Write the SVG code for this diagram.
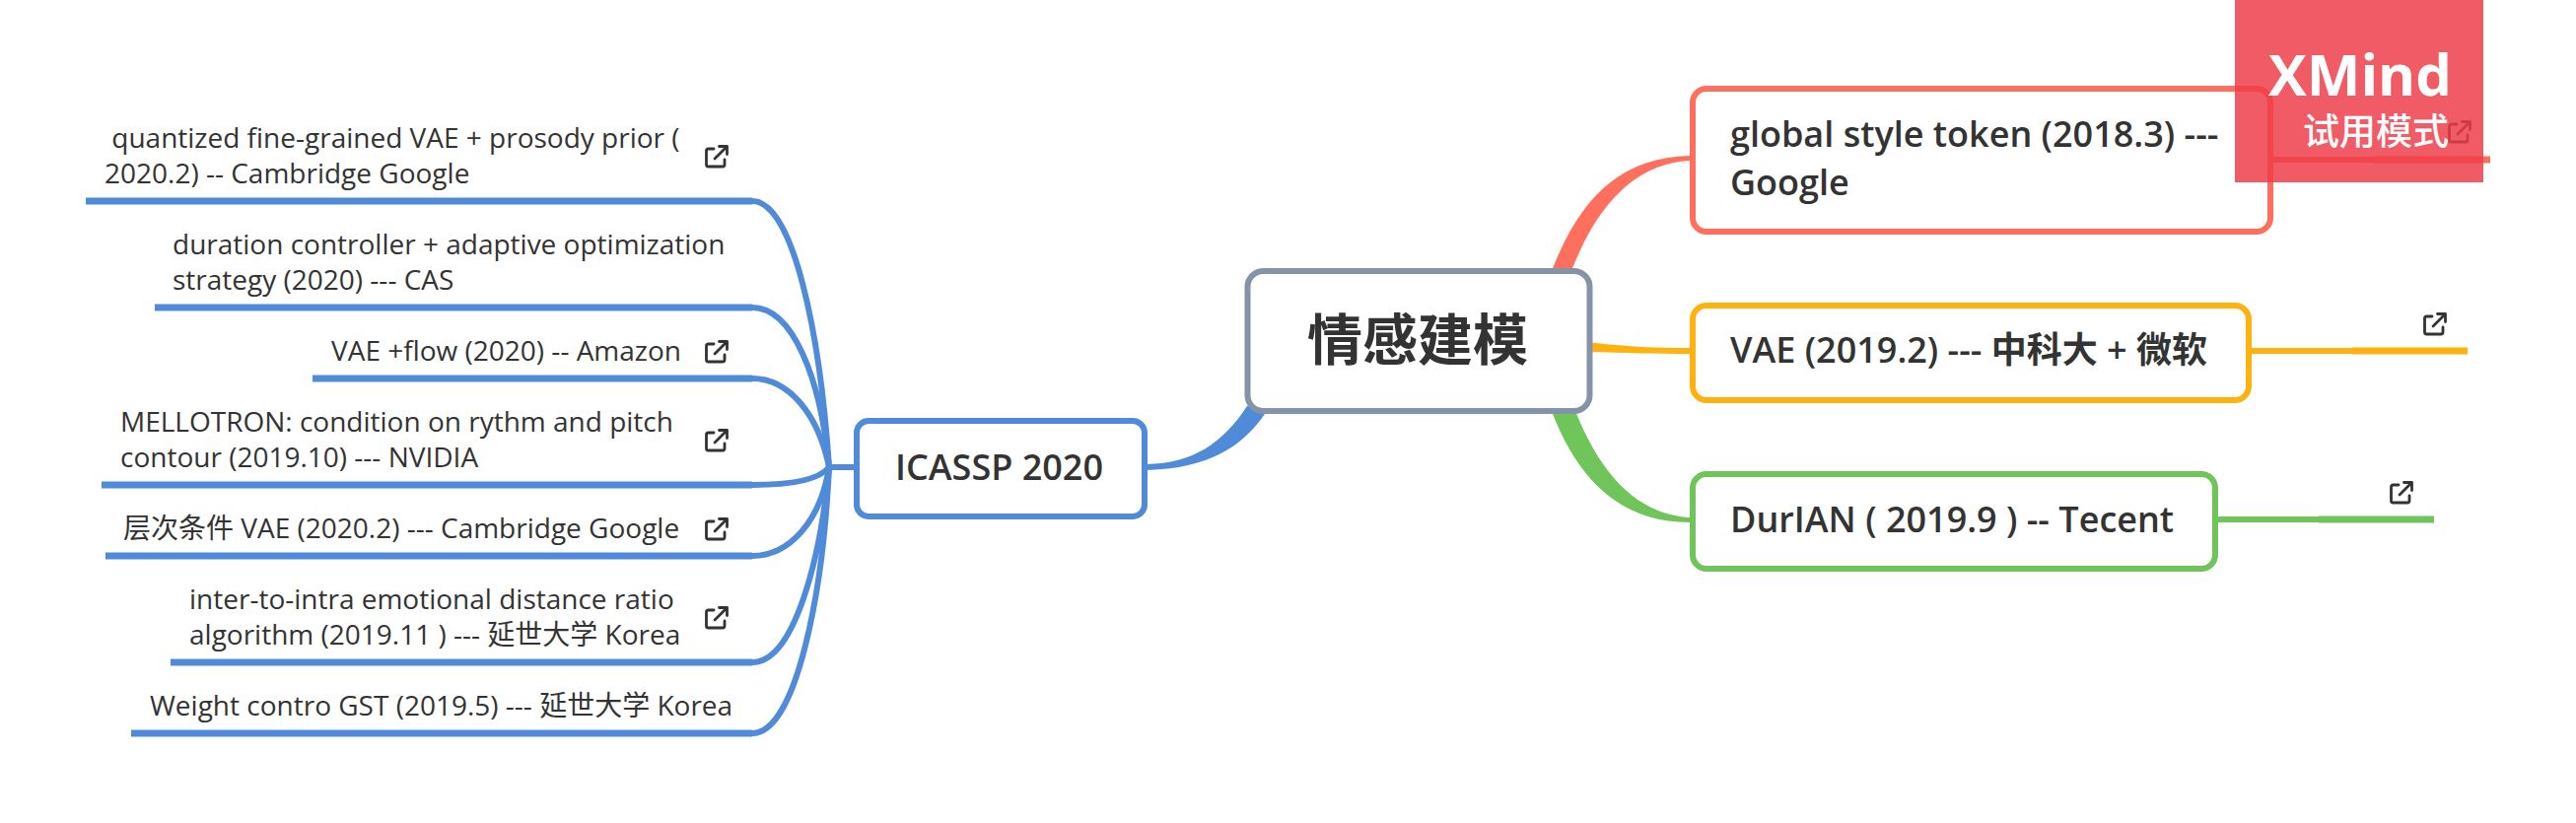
<svg xmlns="http://www.w3.org/2000/svg" xmlns:xlink="http://www.w3.org/1999/xlink" width="2613" height="835" viewBox="0 0 2613 835">
<style>
text{font-family:"Open Sans","Noto Sans CJK SC",sans-serif;fill:#333;white-space:pre}
.leaf{font-size:28px}
.topic{font-size:36px;font-weight:600}
.box{fill:#fff;stroke-width:6}
.b{stroke:#4f8bd9;fill:none}
.thin{stroke-width:6;fill:none}
.thick{stroke-width:7;fill:none}
.r{stroke:#ff6f5e}.o{stroke:#ffb20f}.g{stroke:#6fc55a}
</style>
<defs>
<g id="ico" fill="none" stroke="#333" stroke-width="2.800" stroke-linecap="round" stroke-linejoin="round">
<path d="M9 4H3.5Q1.5 4 1.5 6V20Q1.5 22 3.5 22H18Q20 22 20 20V15"/>
<path d="M10 14L22 2M14.500 1.500H22.500V9.500"/>
</g>
</defs>
<rect width="2613" height="835" fill="#fff"/>
<g id="connectors">
<path fill="#ff6f5e" d="M1572 280C1600 205 1640 160 1714 158V163C1660 166 1620 205 1592 280Z"/>
<path fill="#ffb20f" d="M1610 347C1650 352 1680 353 1714 353V359C1680 359 1650 358 1610 357Z"/>
<path fill="#6fc55a" d="M1572 412C1595 475 1635 530 1714 530V525C1660 522 1622 480 1596 412Z"/>
<path fill="#4f8bd9" d="M1265 412C1240 450 1210 470 1163 471V477C1215 476 1260 460 1288 412Z"/>
<path class="b" stroke-width="6" fill="none" d="M841 474H867"/>
<g class="b thin">
<path d="M763 204C805 204 832 340 841 474"/>
<path d="M763 312C803 312 832 380 841 474"/>
<path d="M763 384C800 384 830 420 841 474"/>
<path d="M763 492C800 492 830 488 841 474"/>
<path d="M763 564C800 564 832 530 841 474"/>
<path d="M763 672C805 672 832 570 841 474"/>
<path d="M763 744C808 744 835 600 841 474"/>
</g>
<g class="b thick">
<path d="M87 204H763"/><path d="M157 312H763"/><path d="M317 384H763"/><path d="M103 492H763"/><path d="M107 564H763"/><path d="M173 672H763"/><path d="M133 744H763"/>
</g>
<path class="r thin" d="M2306 162H2407"/><path class="r thick" d="M2407 162H2526"/>
<path class="o thin" d="M2283 356H2386"/><path class="o thick" d="M2386 356H2503"/>
<path class="g thin" d="M2250 527H2352"/><path class="g thick" d="M2352 527H2469"/>
</g>
<g id="root"><rect class="box" x="1265.500" y="275" width="347" height="142" rx="16" stroke="#8593a8" stroke-width="7"/>
<text x="1438" y="365" text-anchor="middle" style="font-size:56px;font-weight:700">情感建模</text></g>
<g id="icassp"><rect class="box" x="869" y="427" width="292" height="97" rx="12" stroke="#4f8bd9"/>
<text class="topic" x="908" y="487">ICASSP 2020</text></g>
<g id="gst"><rect class="box" x="1717" y="90" width="586" height="145" rx="14" stroke="#ff6f5e"/>
<text class="topic" x="1755" y="149">global style token (2018.3) ---</text><text class="topic" x="1755" y="198">Google</text>
<use xlink:href="#ico" href="#ico" x="2483" y="122"/></g>
<g id="vae"><rect class="box" x="1717" y="310" width="564" height="96" rx="14" stroke="#ffb20f"/>
<text class="topic" x="1755" y="368">VAE (2019.2) --- 中科大 + 微软</text>
<use xlink:href="#ico" href="#ico" x="2458" y="317"/></g>
<g id="durian"><rect class="box" x="1717" y="481" width="530" height="96" rx="14" stroke="#6fc55a"/>
<text class="topic" x="1755" y="540">DurIAN ( 2019.9 ) -- Tecent</text>
<use xlink:href="#ico" href="#ico" x="2424" y="488"/></g>
<g id="leaf1"><text class="leaf" x="106" y="150"> quantized fine-grained VAE + prosody prior (</text><text class="leaf" x="106" y="186">2020.2) -- Cambridge Google</text><use xlink:href="#ico" href="#ico" x="715" y="147"/></g>
<g id="leaf2"><text class="leaf" x="175" y="258">duration controller + adaptive optimization</text><text class="leaf" x="175" y="294">strategy (2020) --- CAS</text></g>
<g id="leaf3"><text class="leaf" x="336" y="366">VAE +flow (2020) -- Amazon</text><use xlink:href="#ico" href="#ico" x="715" y="345"/></g>
<g id="leaf4"><text class="leaf" x="122" y="438">MELLOTRON: condition on rythm and pitch</text><text class="leaf" x="122" y="474">contour (2019.10) --- NVIDIA</text><use xlink:href="#ico" href="#ico" x="715" y="435"/></g>
<g id="leaf5"><text class="leaf" x="125" y="546">层次条件 VAE (2020.2) --- Cambridge Google</text><use xlink:href="#ico" href="#ico" x="715" y="525"/></g>
<g id="leaf6"><text class="leaf" x="192" y="618">inter-to-intra emotional distance ratio</text><text class="leaf" x="192" y="654">algorithm (2019.11 ) --- 延世大学 Korea</text><use xlink:href="#ico" href="#ico" x="715" y="615"/></g>
<g id="leaf7"><text class="leaf" x="152" y="726">Weight contro GST (2019.5) --- 延世大学 Korea</text></g>
<g id="watermark"><rect x="2267" y="0" width="252" height="185" fill="#ee3b48" opacity="0.84"/>
<text x="2394" y="97" text-anchor="middle" style="fill:#fff;font-size:58px;font-weight:700">XMind</text>
<text x="2410" y="147" text-anchor="middle" style="fill:#fff;font-size:37px;font-weight:500">试用模式</text></g>
</svg>
